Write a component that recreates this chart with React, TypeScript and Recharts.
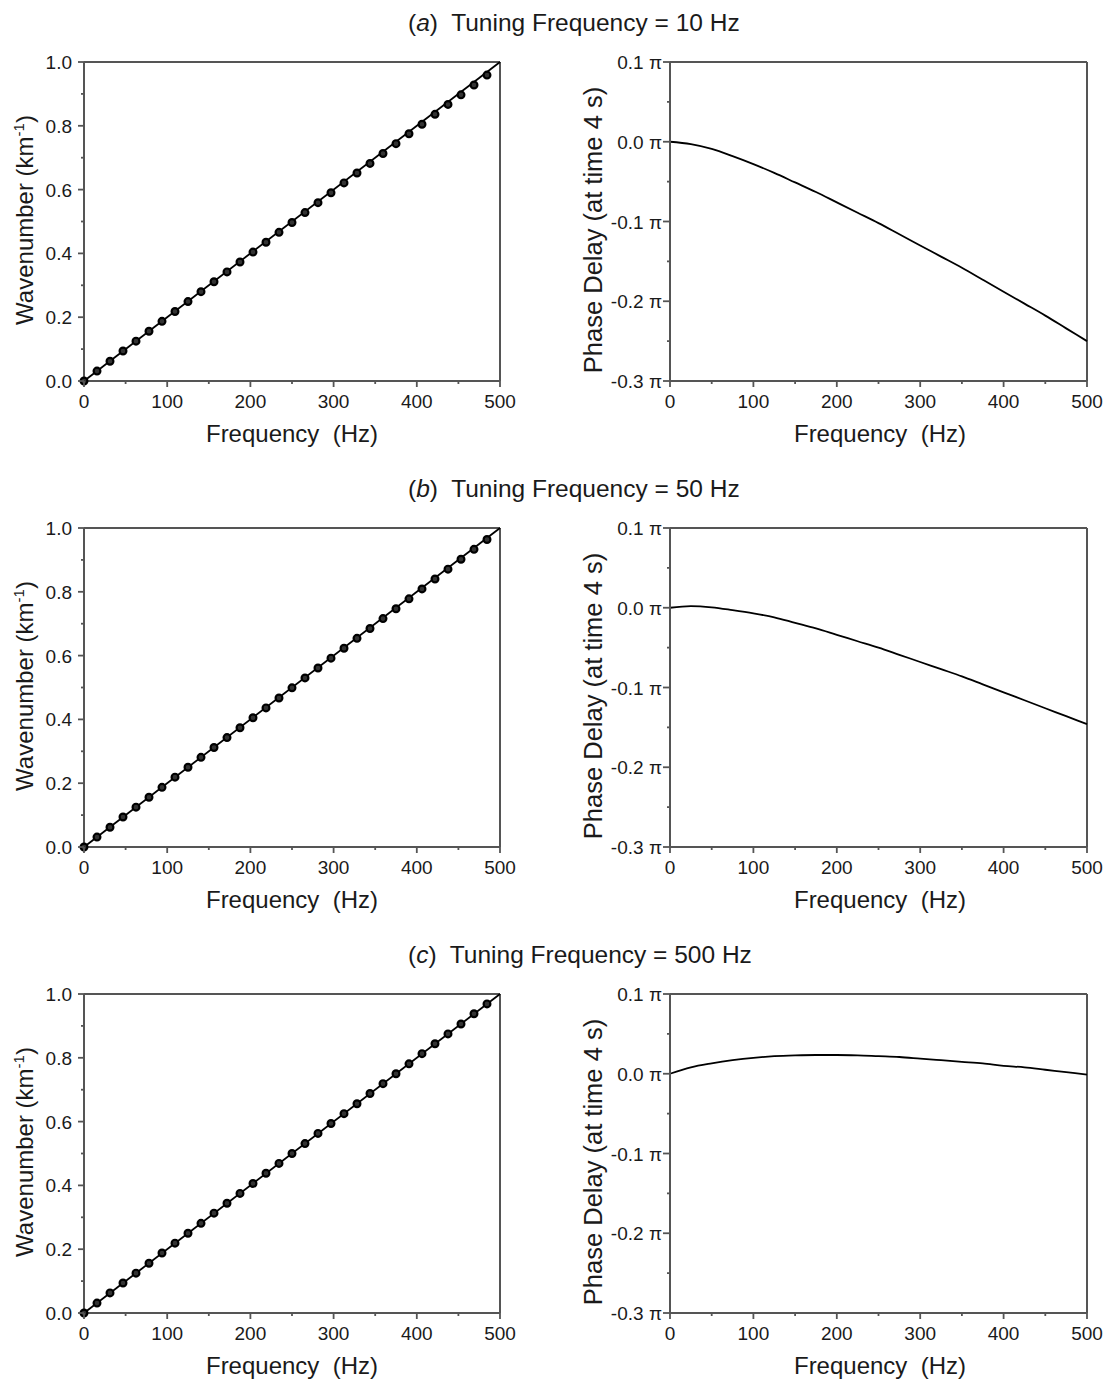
import React from "react";
import {
  ComposedChart,
  Line,
  Scatter,
  XAxis,
  YAxis,
  ReferenceLine,
} from "recharts";

// ---------- data ----------
const titles = ["a", "b", "c"];
const tuningLabels = ["10 Hz", "50 Hz", "500 Hz"];

// straight reference line (wavenumber vs frequency)
const lineFreq = [0, 500];
const lineK = [0, 1.0];

// marker frequencies (Hz)
const markerFreq = [
  0, 15.625, 31.25, 46.875, 62.5, 78.125, 93.75, 109.375, 125, 140.625, 156.25,
  171.875, 187.5, 203.125, 218.75, 234.375, 250, 265.625, 281.25, 296.875,
  312.5, 328.125, 343.75, 359.375, 375, 390.625, 406.25, 421.875, 437.5,
  453.125, 468.75, 484.375,
];
// marker wavenumbers (km^-1)
const markerKA = [
  0, 0.031, 0.062, 0.094, 0.125, 0.156, 0.187, 0.218, 0.249, 0.28, 0.311,
  0.342, 0.373, 0.404, 0.435, 0.466, 0.497, 0.528, 0.559, 0.59, 0.621, 0.652,
  0.682, 0.713, 0.744, 0.775, 0.805, 0.836, 0.867, 0.897, 0.928, 0.959,
];
const markerKB = [
  0, 0.031, 0.062, 0.094, 0.125, 0.156, 0.187, 0.219, 0.25, 0.281, 0.312,
  0.343, 0.374, 0.405, 0.436, 0.467, 0.499, 0.53, 0.561, 0.592, 0.623, 0.654,
  0.685, 0.716, 0.747, 0.778, 0.809, 0.84, 0.871, 0.902, 0.933, 0.964,
];
const markerKC = [
  0, 0.031, 0.063, 0.094, 0.125, 0.156, 0.188, 0.219, 0.25, 0.281, 0.313,
  0.344, 0.375, 0.406, 0.438, 0.469, 0.5, 0.531, 0.563, 0.594, 0.625, 0.656,
  0.688, 0.719, 0.75, 0.781, 0.813, 0.844, 0.875, 0.906, 0.938, 0.969,
];

// phase delay curves (units of pi)
const phaseFreq = [
  0, 25, 50, 75, 100, 125, 150, 175, 200, 225, 250, 275, 300, 325, 350, 375,
  400, 425, 450, 475, 500,
];
const phaseA = [
  0, -0.003, -0.009, -0.018, -0.028, -0.039, -0.051, -0.063, -0.076, -0.089,
  -0.102, -0.116, -0.13, -0.144, -0.158, -0.173, -0.188, -0.203, -0.218,
  -0.234, -0.25,
];
const phaseB = [
  0, 0.002, 0.0005, -0.003, -0.007, -0.012, -0.019, -0.026, -0.034, -0.042,
  -0.05, -0.059, -0.068, -0.077, -0.086, -0.096, -0.106, -0.116, -0.126,
  -0.136, -0.146,
];
const phaseC = [
  0, 0.008, 0.013, 0.017, 0.02, 0.022, 0.023, 0.0235, 0.0235, 0.023, 0.022,
  0.021, 0.019, 0.017, 0.015, 0.013, 0.01, 0.008, 0.005, 0.002, -0.001,
];

// ticks
const freqTicks = [0, 50, 100, 150, 200, 250, 300, 350, 400, 450, 500];
const kTicks = [0, 0.1, 0.2, 0.3, 0.4, 0.5, 0.6, 0.7, 0.8, 0.9, 1.0];
const phaseTicks = [-0.3, -0.25, -0.2, -0.15, -0.1, -0.05, 0, 0.05, 0.1];

const markerSets = [markerKA, markerKB, markerKC];
const phaseSets = [phaseA, phaseB, phaseC];

// ---------- styling ----------
const FONT = "'Liberation Sans', Arial, Helvetica, sans-serif";
const AXIS = "#555";
const TEXT = "#1a1a1a";
const ROW_STEP = 466;

const lineData = lineFreq.map((f, i) => ({ f, k: lineK[i] }));

const isMajorFreq = (v: number) => Math.round(v) % 100 === 0;
const isMajorK = (v: number) => Math.round(v * 10) % 2 === 0;
const isMajorPhase = (v: number) =>
  Math.abs(Math.round(v * 10) - v * 10) < 1e-6;

const XTick = (props: any) => {
  const { x, y, payload } = props;
  const major = isMajorFreq(payload.value);
  return (
    <g>
      <line x1={x} x2={x} y1={y} y2={y + (major ? 6 : 3)} stroke={AXIS} strokeWidth={1.8} />
      {major && (
        <text x={x} y={y + 27} textAnchor="middle" fontFamily={FONT} fontSize={19} fill={TEXT}>
          {payload.value}
        </text>
      )}
    </g>
  );
};

const KTick = (props: any) => {
  const { x, y, payload } = props;
  const major = isMajorK(payload.value);
  return (
    <g>
      <line x1={x - (major ? 6 : 3)} x2={x} y1={y} y2={y} stroke={AXIS} strokeWidth={1.8} />
      {major && (
        <text x={x - 12} y={y + 7} textAnchor="end" fontFamily={FONT} fontSize={19} fill={TEXT}>
          {Number(payload.value).toFixed(1)}
        </text>
      )}
    </g>
  );
};

const PhaseTick = (props: any) => {
  const { x, y, payload } = props;
  const major = isMajorPhase(payload.value);
  const v = Number(payload.value);
  const label = (Math.abs(v) < 1e-9 ? 0 : v).toFixed(1) + " π";
  return (
    <g>
      <line x1={x - (major ? 7 : 3)} x2={x} y1={y} y2={y} stroke={AXIS} strokeWidth={1.8} />
      {major && (
        <text x={x - 8} y={y + 7} textAnchor="end" fontFamily={FONT} fontSize={19} fill={TEXT}>
          {label}
        </text>
      )}
    </g>
  );
};

const MarkerShape = (props: any) => {
  const { cx, cy } = props;
  if (cx == null || cy == null) return null;
  return <circle cx={cx} cy={cy} r={3.4} fill="#333" stroke="#000" strokeWidth={2.2} />;
};

const FreqLabel = (cx: number) => () =>
  (
    <text x={cx} y={402} textAnchor="middle" fontFamily={FONT} fontSize={24} fill={TEXT} style={{ whiteSpace: "pre" }}>
      {"Frequency  (Hz)"}
    </text>
  );

const WaveLabel = () => (
  <text
    x={33}
    y={180}
    transform="rotate(-90, 33, 180)"
    textAnchor="middle"
    fontFamily={FONT}
    fontSize={24}
    fill={TEXT}
  >
    <tspan>Wavenumber (km</tspan>
    <tspan dy={-9} fontSize={15}>-1</tspan>
    <tspan dy={9}>)</tspan>
  </text>
);

const PhaseLabel = () => (
  <text
    x={42}
    y={190}
    transform="rotate(-90, 42, 190)"
    textAnchor="middle"
    fontFamily={FONT}
    fontSize={25.5}
    fill={TEXT}
  >
    Phase Delay (at time 4 s)
  </text>
);

const LeftChart = ({ idx }: { idx: number }) => {
  const pts = markerFreq.map((f, i) => ({ f, k: markerSets[idx][i] }));
  return (
    <ComposedChart width={520} height={420} margin={{ top: 22, right: 20, bottom: 19, left: 0 }}>
      <XAxis
        dataKey="f"
        type="number"
        domain={[0, 500]}
        ticks={freqTicks}
        interval={0}
        tickSize={0}
        tickMargin={0}
        tickLine={false}
        tick={XTick}
        height={60}
        axisLine={{ stroke: AXIS, strokeWidth: 2 }}
        label={{ content: FreqLabel(292) }}
      />
      <YAxis
        type="number"
        domain={[0, 1]}
        ticks={kTicks}
        interval={0}
        tickSize={0}
        tickMargin={0}
        tickLine={false}
        tick={KTick}
        width={84}
        axisLine={{ stroke: AXIS, strokeWidth: 2 }}
        label={{ content: WaveLabel }}
      />
      <ReferenceLine y={1} stroke={AXIS} strokeWidth={2} />
      <ReferenceLine x={500} stroke={AXIS} strokeWidth={2} />
      <Line data={lineData} dataKey="k" type="linear" stroke="#000" strokeWidth={1.8} dot={false} isAnimationActive={false} />
      <Scatter data={pts} dataKey="k" shape={MarkerShape} isAnimationActive={false} />
    </ComposedChart>
  );
};

const RightChart = ({ idx }: { idx: number }) => {
  const data = phaseFreq.map((f, i) => ({ f, p: phaseSets[idx][i] }));
  return (
    <ComposedChart width={553} height={420} margin={{ top: 22, right: 26, bottom: 19, left: 0 }}>
      <XAxis
        dataKey="f"
        type="number"
        domain={[0, 500]}
        ticks={freqTicks}
        interval={0}
        tickSize={0}
        tickMargin={0}
        tickLine={false}
        tick={XTick}
        height={60}
        axisLine={{ stroke: AXIS, strokeWidth: 2 }}
        label={{ content: FreqLabel(320) }}
      />
      <YAxis
        type="number"
        domain={[-0.3, 0.1]}
        ticks={phaseTicks}
        interval={0}
        tickSize={0}
        tickMargin={0}
        tickLine={false}
        tick={PhaseTick}
        width={110}
        axisLine={{ stroke: AXIS, strokeWidth: 2 }}
        label={{ content: PhaseLabel }}
      />
      <ReferenceLine y={0.1} stroke={AXIS} strokeWidth={2} />
      <ReferenceLine x={500} stroke={AXIS} strokeWidth={2} />
      <Line data={data} dataKey="p" type="monotone" stroke="#000" strokeWidth={1.8} dot={false} isAnimationActive={false} />
    </ComposedChart>
  );
};

export default function App() {
  return (
    <div
      style={{
        position: "absolute",
        left: 0,
        top: 0,
        width: 1113,
        height: 1381,
        background: "#fff",
        overflow: "hidden",
      }}
    >
      {titles.map((t, idx) => {
        const top = idx * ROW_STEP;
        return (
          <React.Fragment key={t}>
            <svg width={1113} height={40} style={{ position: "absolute", left: 0, top }}>
              <text x={408} y={31} fontFamily={FONT} fontSize={24.5} fill={TEXT} style={{ whiteSpace: "pre" }}>
                <tspan>(</tspan>
                <tspan fontStyle="italic">{t}</tspan>
                <tspan>{")  Tuning Frequency = " + tuningLabels[idx]}</tspan>
              </text>
            </svg>
            <div style={{ position: "absolute", left: 0, top: top + 40 }}>
              <LeftChart idx={idx} />
            </div>
            <div style={{ position: "absolute", left: 560, top: top + 40 }}>
              <RightChart idx={idx} />
            </div>
          </React.Fragment>
        );
      })}
    </div>
  );
}
